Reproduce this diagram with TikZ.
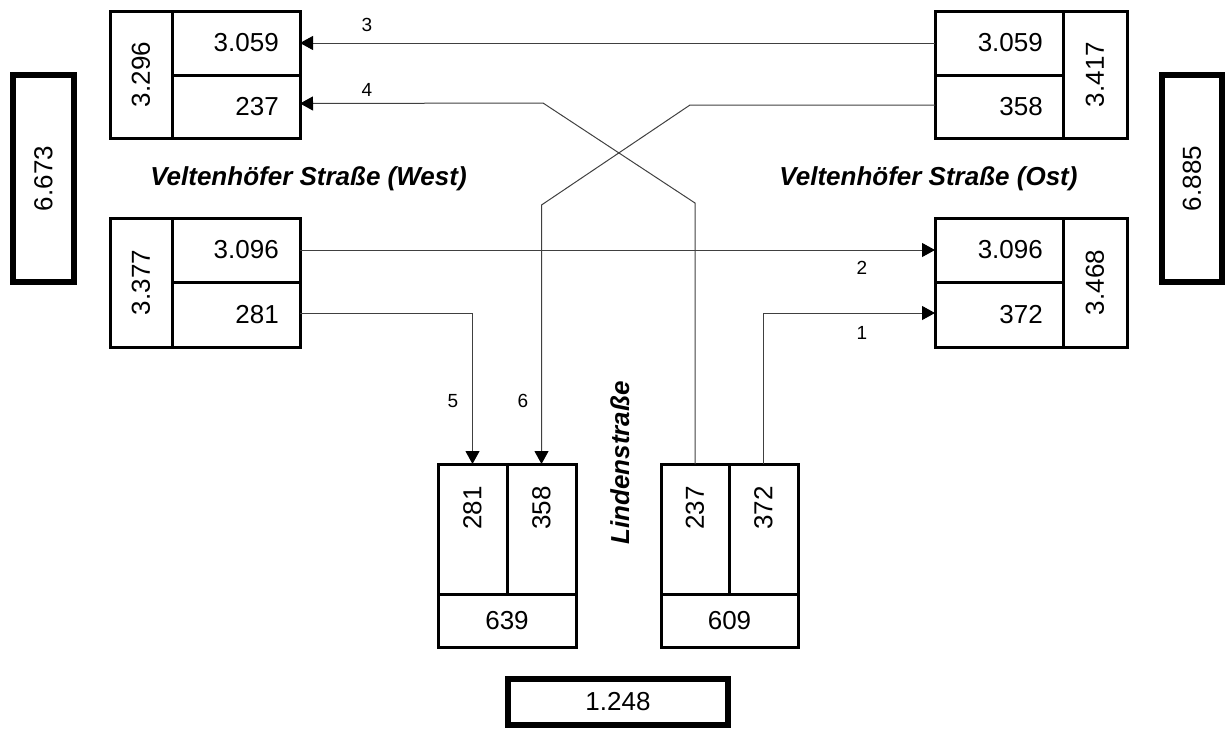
\documentclass[tikz,border=0pt]{standalone}
\usepackage{fontspec}
\setmainfont{Liberation Sans}
\usetikzlibrary{arrows.meta}
\begin{document}
\begin{tikzpicture}[x=1pt,y=-1pt,
  cell/.style={draw, line width=3pt, inner sep=0pt, outer sep=0pt},
  big/.style={draw, line width=6pt, inner sep=0pt, outer sep=0pt, font=\fontsize{26}{30}\selectfont},
  num/.style={font=\fontsize{26}{30}\selectfont, inner sep=0pt},
  lab/.style={font=\fontsize{19}{22}\selectfont, inner sep=0pt},
  street/.style={font=\fontsize{26}{30}\selectfont\bfseries\itshape, inner sep=0pt},
  conn/.style={draw=black!75, line width=1pt},
  arr/.style={conn, -{Triangle[length=13pt,width=14pt,color=black]}}]
\useasboundingbox (0,0) rectangle (1225,729);

% West top
\node[cell, minimum width=62pt, minimum height=127pt] (wt0) at (141,74.5) {};
\node[num, rotate=90] (wt0t) at (wt0) {3.296};
\node[cell, minimum width=128pt, minimum height=64pt] (wt1) at (236,43) {};
\node[num, anchor=east] (wt1t) at ([xshift=-21pt]wt1.east) {3.059};
\node[cell, minimum width=128pt, minimum height=63pt] (wt2) at (236,106.5) {};
\node[num, anchor=east] (wt2t) at ([xshift=-21pt]wt2.east) {237};

% West bottom
\node[cell, minimum width=62pt, minimum height=129pt] (wb0) at (141,282.5) {};
\node[num, rotate=90] (wb0t) at (wb0) {3.377};
\node[cell, minimum width=128pt, minimum height=64pt] (wb1) at (236,250) {};
\node[num, anchor=east] (wb1t) at ([xshift=-21pt]wb1.east) {3.096};
\node[cell, minimum width=128pt, minimum height=65pt] (wb2) at (236,314.5) {};
\node[num, anchor=east] (wb2t) at ([xshift=-21pt]wb2.east) {281};

% East top
\node[cell, minimum width=64pt, minimum height=127pt] (et0) at (1095,74.5) {};
\node[num, rotate=90] (et0t) at (et0) {3.417};
\node[cell, minimum width=128pt, minimum height=64pt] (et1) at (999,43) {};
\node[num, anchor=east] (et1t) at ([xshift=-20pt]et1.east) {3.059};
\node[cell, minimum width=128pt, minimum height=63pt] (et2) at (999,106.5) {};
\node[num, anchor=east] (et2t) at ([xshift=-20pt]et2.east) {358};

% East bottom
\node[cell, minimum width=64pt, minimum height=129pt] (eb0) at (1095,282.5) {};
\node[num, rotate=90] (eb0t) at (eb0) {3.468};
\node[cell, minimum width=128pt, minimum height=64pt] (eb1) at (999,250) {};
\node[num, anchor=east] (eb1t) at ([xshift=-20pt]eb1.east) {3.096};
\node[cell, minimum width=128pt, minimum height=65pt] (eb2) at (999,314.5) {};
\node[num, anchor=east] (eb2t) at ([xshift=-20pt]eb2.east) {372};

% Lindenstrasse left
\node[cell, minimum width=69pt, minimum height=130pt] (ll1) at (472.5,529) {};
\node[num, rotate=90, anchor=east] (ll1t) at ([yshift=-22pt]ll1.north) {281};
\node[cell, minimum width=69pt, minimum height=130pt] (ll2) at (541.5,529) {};
\node[num, rotate=90, anchor=east] (ll2t) at ([yshift=-22pt]ll2.north) {358};
\node[cell, minimum width=138pt, minimum height=53pt] (ll0) at (507,620.5) {};
\node[num] (ll0t) at (ll0) {639};

% Lindenstrasse right
\node[cell, minimum width=68pt, minimum height=130pt] (rl1) at (695,529) {};
\node[num, rotate=90, anchor=east] (rl1t) at ([yshift=-22pt]rl1.north) {237};
\node[cell, minimum width=69pt, minimum height=130pt] (rl2) at (763.5,529) {};
\node[num, rotate=90, anchor=east] (rl2t) at ([yshift=-22pt]rl2.north) {372};
\node[cell, minimum width=137pt, minimum height=53pt] (rl0) at (729.5,620.5) {};
\node[num] (rl0t) at (rl0) {609};

% totals
\node[big, rotate=90, minimum width=207pt, minimum height=61pt] (tw) at (43.5,178.5) {6.673};
\node[big, rotate=90, minimum width=207pt, minimum height=60pt] (te) at (1192,178.5) {6.885};
\node[big, minimum width=220pt, minimum height=46pt] (tl) at (618,702) {1.248};

% street names
\node[street, anchor=base] (sw) at (308.5,185) {Veltenhöfer Straße (West)};
\node[street, anchor=base] (se) at (928.5,185) {Veltenhöfer Straße (Ost)};
\node[street, rotate=90, anchor=base] (sl) at (629,463) {Lindenstraße};

% connectors
\draw[arr] (et1.west) -- (wt1.east);
\draw[arr] (rl1.north) -- (695,203) -- (543,103) -- ([yshift=3pt]wt2.east);
\draw[arr] (wb1.east) -- (eb1.west);
\draw[arr] (rl2.north) |- ([yshift=1.5pt]eb2.west);
\draw[arr] ([yshift=1.5pt]wb2.east) -| (ll1.north);
\draw[arr] ([yshift=1.5pt]et2.west) -- (690,105) -- (541.5,205) -- (ll2.north);

% connector labels
\node[lab] (l3) at (367,25) {3};
\node[lab] (l4) at (367,90) {4};
\node[lab] (l2) at (862,268) {2};
\node[lab] (l1) at (862,333) {1};
\node[lab] (l5) at (453,401) {5};
\node[lab] (l6) at (523,401) {6};
\end{tikzpicture}
\end{document}
